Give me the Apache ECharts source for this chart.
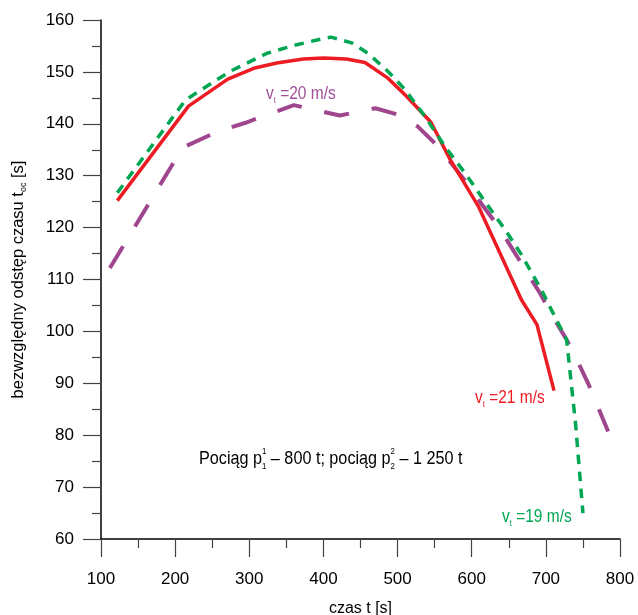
<!DOCTYPE html>
<html>
<head>
<meta charset="utf-8">
<script src="https://cdn.jsdelivr.net/npm/echarts@6/dist/echarts.min.js"></script>
<style>html,body{margin:0;padding:0;background:#fff}#c{width:638px;height:615px}</style>
</head>
<body>
<div id="c"></div>
<script>
// czas t [s] , odstęp [s]
var red21 = [[122,125.2],[218,143.4],[271,148.6],[306,150.7],[337,151.7],[373,152.5],[400,152.7],[431,152.5],[456,151.8],[487,148.8],[512,145.3],[545,140.3],[571,133.1],[609,124.1],[667,106.1],[688,101.3],[711,88.6]];
var green19 = [[122,126.7],[214,144.6],[274,150.1],[324,153.6],[360,155.1],[396,156.3],[410,156.7],[438,155.6],[460,153.6],[487,150.1],[510,146.6],[537,141.4],[564,135.6],[591,130.5],[618,125.0],[645,119.6],[667,114.8],[694,108.0],[708,104.0],[728,98.4],[740,82.3],[750,65.0]];
var purple20 = [[112,112.2],[210,135.4],[259,138.6],[295,140.2],[360,143.6],[422,141.6],[470,143.0],[500,141.8],[527,139.5],[550,136.3],[573,132.3],[595,128.3],[614,124.4],[636,120.2],[654,116.1],[672,111.9],[692,107.4],[708,103.2],[728,98.4],[742,94.5],[757,90.0],[771,85.2],[784,80.7]];
var xTicks = [100,200,300,400,500,600,700,800];
var yTicks = [60,70,80,90,100,110,120,130,140,150,160];

var FONT = "'Liberation Sans',Arial,sans-serif";
var RED = '#ED1C24', GREEN = '#00A651', PURPLE = '#A0468F';

var chart = echarts.init(document.getElementById('c'), null, {renderer:'canvas'});

function vLabel(num, color, x, y) {
  return {
    type: 'text', x: x, y: y, scaleX: 0.86, z: 100,
    style: {
      x: 0, y: 0, align: 'left', verticalAlign: 'middle',
      text: '{a|v}{s|t}{a| =' + num + ' m/s}',
      fill: color,
      rich: {
        a: {fontFamily: FONT, fontSize: 18, fill: color, lineHeight: 22, verticalAlign: 'middle'},
        s: {fontFamily: FONT, fontSize: 9, fill: color, lineHeight: 10, verticalAlign: 'bottom'}
      }
    }
  };
}

var option = {
  animation: false,
  backgroundColor: '#fff',
  grid: {left: 101, right: 18, top: 20, bottom: 76, containLabel: false, outerBoundsMode: 'none'},
  xAxis: {
    type: 'value', min: xTicks[0], max: xTicks[xTicks.length-1], interval: 100,
    name: 'czas t [s]', nameLocation: 'middle', nameGap: 62,
    nameTextStyle: {fontFamily: FONT, fontSize: 16, color: '#000'},
    axisLine: {show: true, lineStyle: {color: '#000', width: 1.5}},
    axisTick: {show: true, length: 18, lineStyle: {color: '#444', width: 1.2}},
    minorTick: {show: true, splitNumber: 2, length: 9, lineStyle: {color: '#444', width: 1.2}},
    axisLabel: {fontFamily: FONT, fontSize: 17, color: '#000', margin: 32},
    splitLine: {show: false}
  },
  yAxis: {
    type: 'value', min: yTicks[0], max: yTicks[yTicks.length-1], interval: 10,
    name: '{n|bezwzględny odstęp czasu t}{s|oc}{n| [s]}', nameLocation: 'middle', nameGap: 73, nameRotate: 90,
    nameTextStyle: {
      fontFamily: FONT, fontSize: 16.5, color: '#000',
      rich: {
        n: {fontFamily: FONT, fontSize: 16.5, color: '#000', lineHeight: 20, verticalAlign: 'middle'},
        s: {fontFamily: FONT, fontSize: 9, color: '#000', lineHeight: 9, verticalAlign: 'bottom'}
      }
    },
    axisLine: {show: true, lineStyle: {color: '#000', width: 1.5}},
    axisTick: {show: true, length: 18, lineStyle: {color: '#444', width: 1.2}},
    minorTick: {show: true, splitNumber: 2, length: 9, lineStyle: {color: '#444', width: 1.2}},
    axisLabel: {fontFamily: FONT, fontSize: 17, color: '#000', margin: 27},
    splitLine: {show: false}
  },
  series: [
    {type: 'line', data: purple20, symbol: 'none', z: 2,
     lineStyle: {color: PURPLE, width: 4, type: [25.5, 23], cap: 'butt'}},
    {type: 'line', data: red21, symbol: 'none', z: 3,
     lineStyle: {color: RED, width: 3.5, type: 'solid'}},
    {type: 'line', data: green19, symbol: 'none', z: 4,
     lineStyle: {color: GREEN, width: 3.5, type: [9.5, 7.5], cap: 'butt'}}
  ],
  graphic: [
    vLabel('20', '#A0509A', 266, 94),
    vLabel('21', RED, 475, 398),
    vLabel('19', GREEN, 502, 517),
    {
      type: 'text', x: 199, y: 459, scaleX: 0.875, z: 100,
      style: {
        x: 0, y: 0, align: 'left', verticalAlign: 'middle',
        text: '{a|Pociąg p}{p|1}{b|1}{a| – 800 t; pociąg p}{p|2}{b|2}{a| – 1 250 t}',
        fill: '#000',
        rich: {
          a: {fontFamily: FONT, fontSize: 18.5, fill: '#000', lineHeight: 24, verticalAlign: 'middle'},
          p: {fontFamily: FONT, fontSize: 9, fill: '#000', lineHeight: 10, verticalAlign: 'top', width: 0},
          b: {fontFamily: FONT, fontSize: 9, fill: '#000', lineHeight: 10, verticalAlign: 'bottom'}
        }
      }
    }
  ]
};
chart.setOption(option);
</script>
</body>
</html>
